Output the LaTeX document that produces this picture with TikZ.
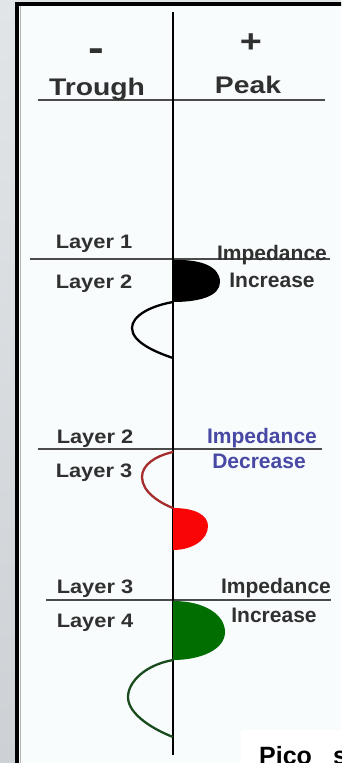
\documentclass[tikz,border=0pt]{standalone}
\usepackage{fontspec}
\setmainfont{Liberation Sans}
\newfontfamily\headfont[FakeStretch=1.18]{Liberation Sans}
\newfontfamily\layerfont[FakeStretch=1.12]{Liberation Sans}
\usepackage{tikz}
\usetikzlibrary{positioning,calc}
\definecolor{inkgray}{RGB}{48,48,48}
\definecolor{rulegray}{RGB}{75,75,75}
\definecolor{sidegray}{RGB}{205,209,213}
\definecolor{sidelight}{RGB}{226,229,232}
\definecolor{panelwhite}{RGB}{248,252,253}
\definecolor{decblue}{RGB}{72,72,165}
\definecolor{peakred}{RGB}{250,5,5}
\definecolor{troughred}{RGB}{165,45,45}
\definecolor{peakgreen}{RGB}{0,110,0}
\definecolor{troughgreen}{RGB}{25,75,30}
\tikzset{
  head/.style={font=\headfont\bfseries\fontsize{24}{26}\selectfont,text=inkgray,anchor=base,inner sep=0pt},
  sign/.style={font=\headfont\bfseries\fontsize{32}{34}\selectfont,text=inkgray,anchor=base,inner sep=0pt},
  layer/.style={font=\layerfont\bfseries\fontsize{19.5}{22}\selectfont,text=inkgray,anchor=base,inner sep=0pt},
  imp/.style={font=\bfseries\fontsize{21}{23}\selectfont,text=inkgray,anchor=base,inner sep=0pt},
  boundary/.style={draw=rulegray,line width=2.2pt},
  axis/.style={draw=black,line width=1.5pt},
  troughline/.style={line width=2.3pt},
}

\begin{document}
\begin{tikzpicture}[x=1pt,y=-1pt]
  \useasboundingbox (0,0) rectangle (341,763);
  \clip (0,0) rectangle (341,763);
  % frame
  \shade[top color=sidelight,bottom color=sidegray] (0,0) rectangle (17,763);
  \fill[sidelight] (17,0) rectangle (341,4);
  \fill[panelwhite] (19,6) rectangle (341,763);
  \draw[black,line width=4pt] (17,763) -- (17,4) -- (343,4);
  \draw[gray!60,line width=1pt] (20,6) -- (20,763);

  % boundaries
  \coordinate (h0w) at (38,100);  \coordinate (h0e) at (325,100);
  \coordinate (h1w) at (30,259);  \coordinate (h1e) at (330,259);
  \coordinate (h2w) at (38,449);  \coordinate (h2e) at (322,449);
  \coordinate (h3w) at (46,600);  \coordinate (h3e) at (331,600);
  \draw[boundary] (h0w) -- (h0e);
  \draw[boundary] (h1w) -- (h1e);
  \draw[boundary] (h2w) -- (h2e);
  \draw[boundary] (h3w) -- (h3e);

  % header
  \node[sign,font=\headfont\bfseries\fontsize{40}{42}\selectfont] (minus) at (96,61) {-};
  \node[sign] (plus) at (251,52) {+};
  \node[head] (trough) at (97,95) {Trough};
  \node[head] (peak) at (248,93) {Peak};

  % labels
  \node[layer] (lay1a) at (94,248) {Layer 1};
  \node[layer] (lay2a) at (94,288) {Layer 2};
  \node[imp] (impA) at (272,260) {Impedance};
  \node[imp] (incA) at (272,287) {Increase};

  \node[layer] (lay2b) at (95,443) {Layer 2};
  \node[layer] (lay3b) at (94,477) {Layer 3};
  \node[imp,text=decblue] (impB) at (262,443) {Impedance};
  \node[imp,text=decblue] (decB) at (259,468) {Decrease};

  \node[layer] (lay3c) at (95,593) {Layer 3};
  \node[layer] (lay4c) at (95,627) {Layer 4};
  \node[imp] (impC) at (276,593) {Impedance};
  \node[imp] (incC) at (274,622) {Increase};

  % axis
  \coordinate (axtop) at (173,12);
  \coordinate (axbot) at (173,755);
  \draw[axis] (axtop) -- (axbot);

  % wavelets
  \fill[black] (173,260) .. controls (202,259) and (220,267) .. (220,282)
    .. controls (220,296) and (200,302) .. (173,302) -- cycle;
  \draw[troughline,black] (173,302) .. controls (150,306) and (132,316) .. (132,328)
    .. controls (132,342) and (155,352) .. (173,358);

  \draw[troughline,troughred] (173,452) .. controls (155,456) and (142,465) .. (142,477)
    .. controls (142,492) and (160,503) .. (173,508);
  \fill[peakred] (173,508) .. controls (195,508) and (208,515) .. (208,526)
    .. controls (208,540) and (192,550) .. (173,550) -- cycle;

  \fill[peakgreen] (173,601) .. controls (205,601) and (225,615) .. (225,632)
    .. controls (225,650) and (200,660) .. (173,660) -- cycle;
  \draw[troughline,troughgreen] (173,660) .. controls (145,665) and (128,682) .. (128,697)
    .. controls (128,715) and (155,730) .. (173,737);

  % caption cut by the edge
  \fill[white] (241,730) rectangle (341,763);
  \node[anchor=base west,inner sep=0pt,font=\bfseries\fontsize{25}{27}\selectfont] (pico) at (259,764) {Pico\hspace{21pt}s};
\end{tikzpicture}
\end{document}
